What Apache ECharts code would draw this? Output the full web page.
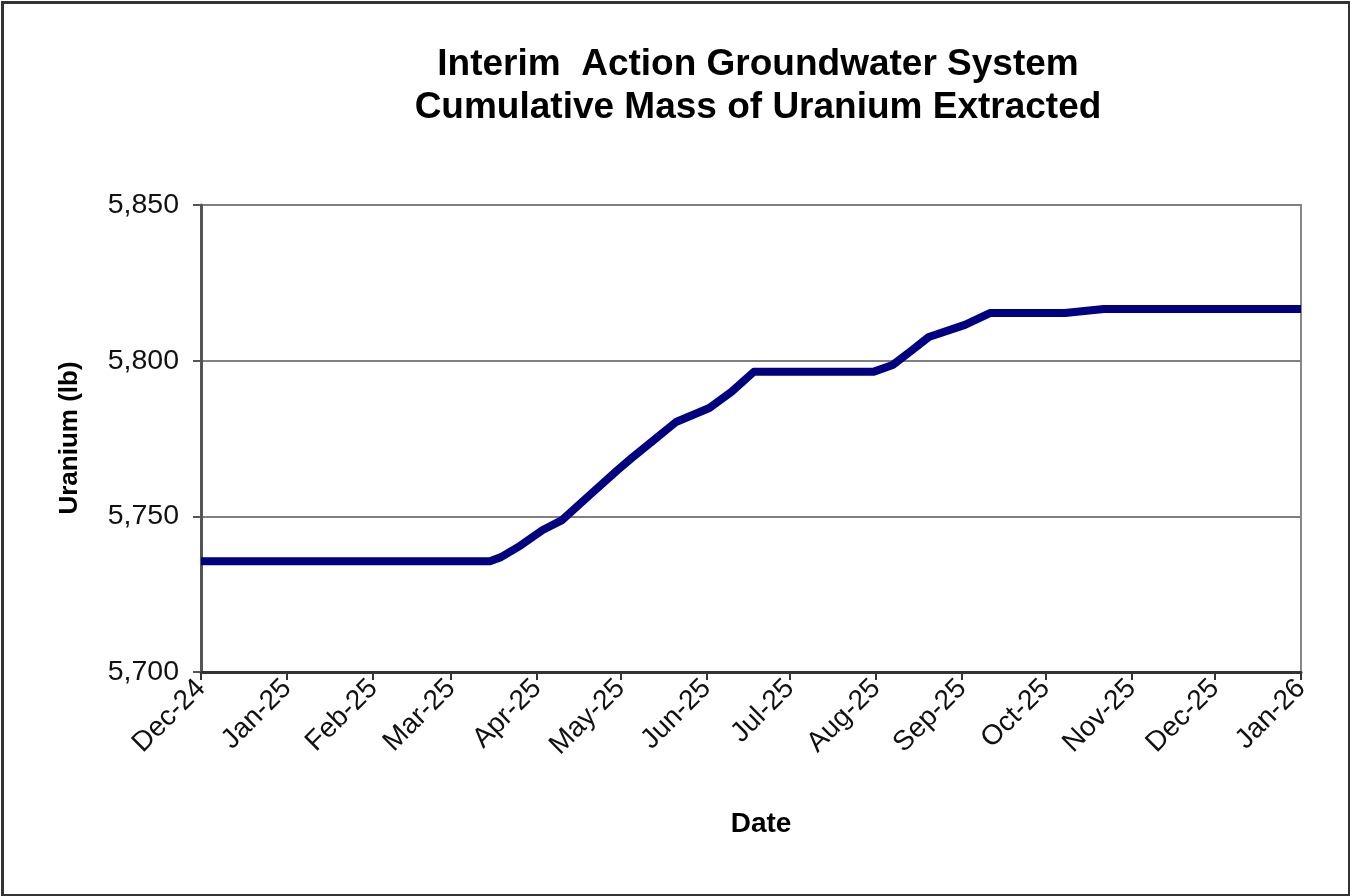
<!DOCTYPE html>
<html>
<head>
<meta charset="utf-8">
<script src="https://cdn.jsdelivr.net/npm/echarts@6/dist/echarts.min.js"></script>
<style>
  html, body { margin: 0; padding: 0; background: #fff; }
  #chart { width: 1350px; height: 896px; }
</style>
</head>
<body>
<div id="chart"></div>
<script>
// ---- Data ----
var titleLines = ['Interim  Action Groundwater System', 'Cumulative Mass of Uranium Extracted'];
var xAxisTitle = 'Date';
var yAxisTitle = 'Uranium (lb)';
var monthNames = ['Jan','Feb','Mar','Apr','May','Jun','Jul','Aug','Sep','Oct','Nov','Dec'];
var xStart = '2024-12-01';
var xEnd = '2026-01-01';
var yMin = 5700, yMax = 5850, yStep = 50;

var dates = [
  '2024-12-01', '2025-03-15', '2025-03-19', '2025-03-26', '2025-04-03',
  '2025-04-10', '2025-04-20', '2025-04-30', '2025-05-05', '2025-05-13',
  '2025-05-21', '2025-06-02', '2025-06-10', '2025-06-18', '2025-07-31',
  '2025-08-07', '2025-08-14', '2025-08-20', '2025-09-02', '2025-09-11',
  '2025-10-08', '2025-10-22', '2026-01-01'
];
var uranium = [
  5735.6, 5735.6, 5736.9, 5740.6, 5745.6,
  5748.8, 5756.9, 5764.9, 5768.7, 5774.5,
  5780.3, 5784.8, 5790.0, 5796.4, 5796.4,
  5798.6, 5803.4, 5807.6, 5811.5, 5815.3,
  5815.3, 5816.6, 5816.6
];

// ---- Build ----
function toTime(s) {
  var p = s.split('-');
  return new Date(+p[0], +p[1] - 1, +p[2]).getTime();
}
var seriesData = dates.map(function (d, i) { return [toTime(d), uranium[i]]; });

var FONT = '"Liberation Sans", Arial, sans-serif';
var chart = echarts.init(document.getElementById('chart'));
chart.setOption({
  backgroundColor: '#ffffff',
  animation: false,
  title: {
    text: titleLines.join('\n'),
    left: 753,
    top: 38,
    textAlign: 'center',
    textStyle: {
      fontFamily: FONT, fontSize: 37, fontWeight: 'bold', color: '#000',
      lineHeight: 43
    }
  },
  grid: {
    left: 201, right: 49, top: 205, bottom: 224,
    show: true, borderColor: '#888', borderWidth: 2, backgroundColor: '#fff'
  },
  xAxis: {
    type: 'time',
    min: toTime(xStart),
    max: toTime(xEnd),
    splitNumber: 13,
    minInterval: 28 * 86400000,
    maxInterval: 31 * 86400000,
    axisLine: { show: true, lineStyle: { color: '#333', width: 3 } },
    axisTick: { show: true, length: 8, lineStyle: { color: '#333', width: 2 } },
    minorTick: { show: false },
    splitLine: { show: false },
    axisLabel: {
      rotate: 45,
      margin: 12,
      showMinLabel: true,
      showMaxLabel: true,
      hideOverlap: false,
      fontFamily: FONT, fontSize: 28, color: '#111',
      formatter: function (v) {
        var d = new Date(v);
        return monthNames[d.getMonth()] + '-' + String(d.getFullYear()).slice(2);
      }
    }
  },
  yAxis: {
    type: 'value',
    min: yMin, max: yMax, interval: yStep,
    axisLine: { show: true, lineStyle: { color: '#555', width: 3 } },
    axisTick: { show: true, inside: false, length: 8, lineStyle: { color: '#555', width: 2 } },
    splitLine: { show: true, lineStyle: { color: '#808080', width: 2 } },
    axisLabel: {
      margin: 22,
      fontFamily: FONT, fontSize: 28.5, color: '#111',
      formatter: function (v) { return v.toLocaleString('en-US'); }
    }
  },
  series: [{
    type: 'line',
    data: seriesData,
    symbol: 'none',
    smooth: false,
    lineStyle: { color: '#000080', width: 8, join: 'round', cap: 'butt' }
  }],
  graphic: [
    {
      type: 'text', x: 761, y: 824,
      style: { text: xAxisTitle, font: 'bold 28px ' + FONT, fill: '#000', align: 'center', verticalAlign: 'middle' }
    },
    {
      type: 'text', x: 70, y: 438, rotation: Math.PI / 2,
      style: { text: yAxisTitle, font: 'bold 26px ' + FONT, fill: '#000', align: 'center', verticalAlign: 'middle' }
    },
    {
      type: 'rect', left: 0, top: 0, silent: true, z: 100,
      shape: { x: 1.5, y: 1.5, width: 1347, height: 893 },
      style: { fill: 'none', stroke: '#333', lineWidth: 3 }
    }
  ]
});
</script>
</body>
</html>
